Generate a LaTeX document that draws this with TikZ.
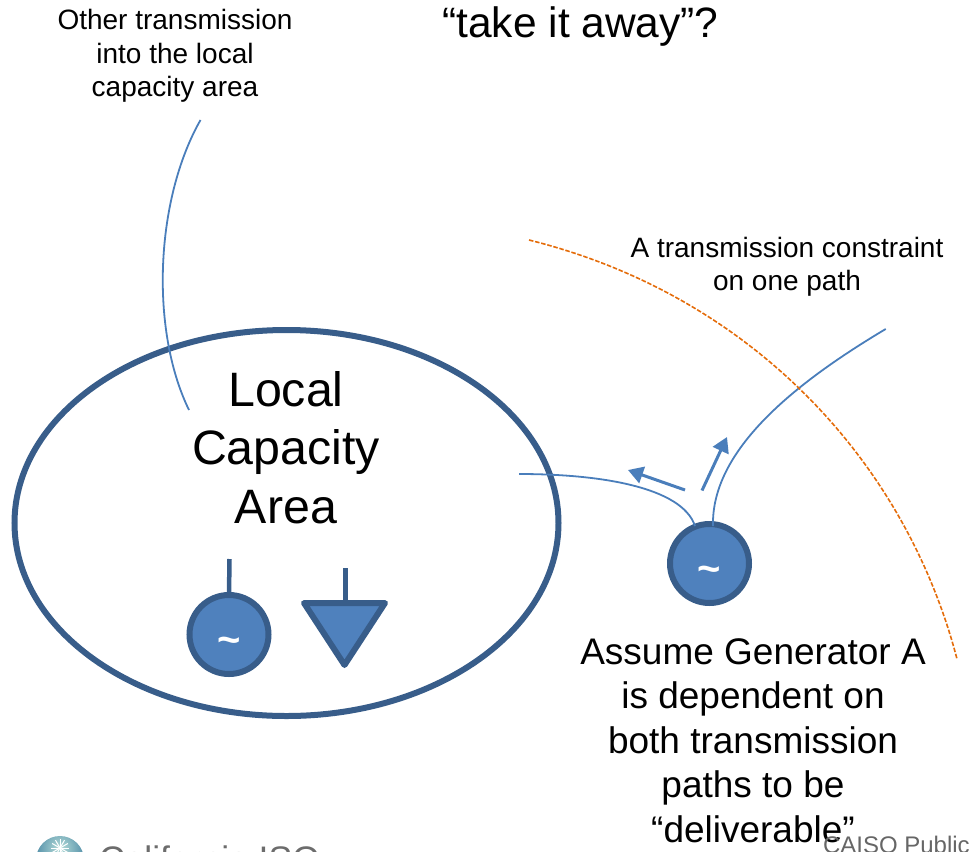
\documentclass[tikz,border=0pt]{standalone}
\usepackage{fontspec}
\setmainfont{Liberation Sans}
\usetikzlibrary{arrows.meta,shapes.geometric}
\definecolor{fillblue}{HTML}{4F81BD}
\definecolor{edgeblue}{HTML}{385D8A}
\definecolor{linkblue}{HTML}{4A7EBB}
\definecolor{dashorange}{HTML}{E46C0A}
\definecolor{logoteal}{HTML}{3F7F9F}
\definecolor{logolight}{HTML}{B5DCD8}
\tikzset{
  every node/.style={inner sep=0pt,outer sep=0pt},
  thickedge/.style={draw=edgeblue,line width=6pt},
  gen/.style={circle,thickedge,fill=fillblue,minimum size=79pt,text=white,font=\bfseries\fontsize{40}{40}\selectfont},
  stem/.style={draw=edgeblue,line width=4.5pt},
  link/.style={draw=linkblue,line width=1.8pt},
  flow/.style={draw=linkblue,line width=3pt,-{Triangle[length=15pt,width=17pt]}},
  big/.style={align=center,font=\fontsize{48.3}{58.5}\selectfont},
  mid/.style={align=center,font=\fontsize{37}{44.5}\selectfont},
  small/.style={align=center,font=\fontsize{28}{33.5}\selectfont},
}
\begin{document}
\begin{tikzpicture}[x=1pt,y=-1pt]
\path[use as bounding box] (0,0) rectangle (970,852);
\clip (0,0) rectangle (970,852);
% texts
\node[font=\fontsize{42.5}{42.5}\selectfont,anchor=center] (title) at (580.5,26.5) {“take it away”?};
\node[small] (other) at (175,56) {Other transmission\\into the local\\capacity area};
\node[small] (constraint) at (787,267) {A transmission constraint\\on one path};
% area
\node[ellipse,thickedge,minimum width=544pt,minimum height=386pt] (lca) at (286.5,523) {};
\node[big] (lcatext) at (286,447.5) {Local\\Capacity\\Area};
% local generator and load
\node[gen] (g1) at (229,634.5) {\smash{\raisebox{-19pt}{\textasciitilde}}};
\coordinate (g1top) at (229.5,559);
\draw[stem] (g1top) -- (g1.north);
\coordinate (l1) at (304,603);
\coordinate (l2) at (385,603);
\coordinate (l3) at (344.5,665);
\draw[thickedge,fill=fillblue,line join=round] (l1) -- (l2) -- (l3) -- cycle;
\coordinate (l1top) at (345.7,568);
\coordinate (l1base) at (345.7,603);
\draw[stem] (l1top) -- (l1base);
% generator A
\node[gen] (ga) at (709.5,563.5) {\smash{\raisebox{-19pt}{\textasciitilde}}};
\node[mid] (gatext) at (753,740.5) {Assume Generator A\\is dependent on\\both transmission\\paths to be\\“deliverable”};
% connectors
\coordinate (o1) at (200.5,120);
\coordinate (o2) at (189,410);
\draw[link] (o1) .. controls (155,200) and (150,330) .. (o2);
\coordinate (a1) at (519,474);
\coordinate (a2) at (695,526);
\draw[link] (a1) .. controls (600,474) and (682,487) .. (a2);
\coordinate (b1) at (885.7,329);
\coordinate (b2) at (713,526);
\draw[link] (b1) .. controls (795,383) and (711,450) .. (b2);
\coordinate (c1) at (529,240);
\coordinate (c2) at (957,659);
\draw[draw=dashorange,line width=1.6pt,dash pattern=on 4.5pt off 1.8pt] (c1) .. controls (750,295) and (905,460) .. (c2);
\coordinate (f1) at (685,490);
\coordinate (f2) at (628,470);
\draw[flow] (f1) -- (f2);
\coordinate (f3) at (702,490.5);
\coordinate (f4) at (727,437);
\draw[flow] (f3) -- (f4);
% logo
\begin{scope}
\clip (60,860) circle (24);
\shade[inner color=logolight,outer color=logoteal] (60,848) circle (30);
\end{scope}
\foreach \a in {0,30,...,330}{\draw[white,line width=1pt] (60,848) -- ++(\a:9);}
\node[anchor=base west,text=gray!85!black,font=\fontsize{35.5}{35.5}\selectfont] (logo) at (99,871) {California ISO};
\node[anchor=base west,text=gray!80!black,font=\fontsize{24}{24}\selectfont] (public) at (823,853) {CAISO Public};
\end{tikzpicture}
\end{document}
